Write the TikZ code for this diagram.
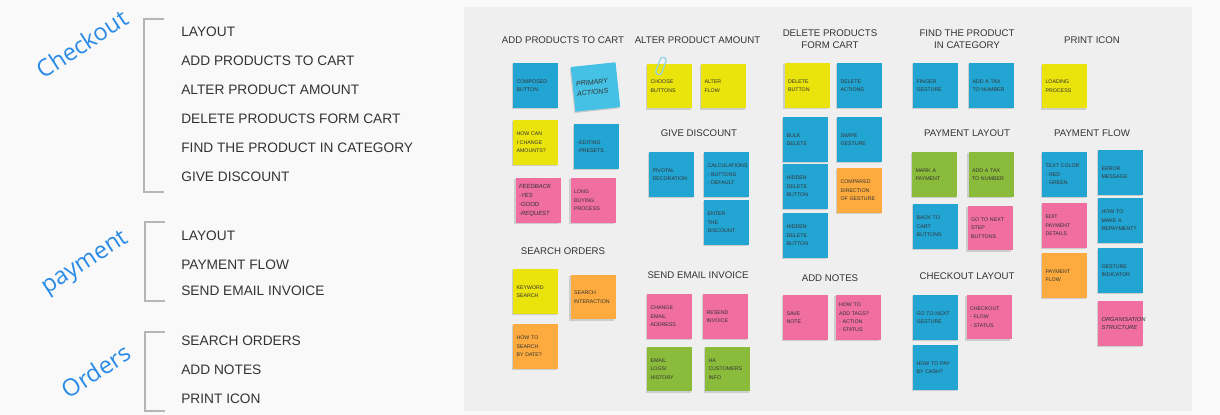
\documentclass[tikz,border=0pt]{standalone}
\usepackage{fontspec}
\setmainfont{Liberation Sans}
\newfontfamily\labelfont{Open Sans}
\usetikzlibrary{shadows}

\definecolor{page}{HTML}{F9F9F9}
\definecolor{board}{HTML}{EFEFEF}
\definecolor{ink}{HTML}{333333}
\definecolor{bracketgray}{HTML}{B5B5B5}
\definecolor{labelblue}{HTML}{2A8BE6}
\definecolor{nblue}{HTML}{23A5D3}
\definecolor{nlblue}{HTML}{45C1E5}
\definecolor{nyellow}{HTML}{EAE30C}
\definecolor{npink}{HTML}{F06EA0}
\definecolor{norange}{HTML}{FDAB3E}
\definecolor{ngreen}{HTML}{8BBB3B}
\definecolor{clipblue}{HTML}{8FD3E8}
\newcommand\notefont{\hyphenpenalty=10000\relax\fontsize{3}{4.8}\selectfont}

\begin{document}
\begin{tikzpicture}[x=0.02cm,y=-0.02cm,
  group/.style={labelblue,font=\labelfont\fontsize{13.5}{15}\selectfont,rotate=33,inner sep=0pt},
  item/.style={anchor=west,ink,font=\fontsize{7.8}{9}\selectfont,inner sep=0pt},
  bracket/.style={bracketgray,line width=0.7pt},
  ttl/.style={ink,font=\fontsize{5.5}{7}\selectfont,align=center,inner sep=0pt},
  note/.style={minimum size=0.9cm,inner sep=0pt,text width=0.76cm,align=left,
    text=ink,font=\notefont,
    drop shadow={shadow xshift=-0.6pt,shadow yshift=-0.8pt,opacity=0.3,fill=black!50}}]
\useasboundingbox (0,0) rectangle (1220,415);
\fill[page] (0,0) rectangle (1220,415);
\fill[board] (464,7) rectangle (1192,411);

% groups and their lists
\node[group] (checkout) at (82,44) {Checkout};
\node[group] (payment) at (86,264) {payment};
\node[group] (orders) at (96,371) {Orders};
\draw[bracket] (164,19) -- (144,19) -- (144,192) -- (164,192);
\draw[bracket] (165,222) -- (145,222) -- (145,301) -- (165,301);
\draw[bracket] (165,332) -- (145,332) -- (145,411) -- (165,411);
\node[item] (c1) at (181,32) {LAYOUT};
\node[item] (c2) at (181,61) {ADD PRODUCTS TO CART};
\node[item] (c3) at (181,90) {ALTER PRODUCT AMOUNT};
\node[item] (c4) at (181,119) {DELETE PRODUCTS FORM CART};
\node[item] (c5) at (181,148) {FIND THE PRODUCT IN CATEGORY};
\node[item] (c6) at (181,177) {GIVE DISCOUNT};
\node[item] (p1) at (181,236) {LAYOUT};
\node[item] (p2) at (181,265) {PAYMENT FLOW};
\node[item] (p3) at (181,291) {SEND EMAIL INVOICE};
\node[item] (o1) at (181,341) {SEARCH ORDERS};
\node[item] (o2) at (181,370) {ADD NOTES};
\node[item] (o3) at (181,399) {PRINT ICON};

% first column
\node[ttl] (tcart) at (563,40) {ADD PRODUCTS TO CART};
\node[note,fill=nblue] (composed) at (535.5,85.5) {COMPOSED\\BUTTON};
\node[note,fill=nlblue,rotate=6,font=\itshape\fontsize{4}{5.6}\selectfont] (primary) at (595.5,87) {PRIMARY\\ACTIONS};
\node[note,fill=nyellow] (amounts) at (535.5,142.5) {HOW CAN\\I CHANGE\\AMOUNTS?};
\node[note,fill=nblue] (editing) at (596.5,146.5) {-EDITING\\-PRESETS};
\node[note,fill=npink,font=\itshape\fontsize{3.4}{5}\selectfont] (feedback) at (538,200.5) {FEEDBACK\\-YES\\-GOOD\\-REQUEST};
\node[note,fill=npink] (buying) at (593,200.5) {LONG\\BUYING\\PROCESS};
\node[ttl] (tsearch) at (563,251) {SEARCH ORDERS};
\node[note,fill=nyellow] (keyword) at (535.5,291.5) {KEYWORD\\SEARCH};
\node[note,fill=norange] (interaction) at (593,297) {SEARCH\\INTERACTION};
\node[note,fill=norange] (bydate) at (535.5,346.5) {HOW TO\\SEARCH\\BY DATE?};

% second column
\node[ttl] (talter) at (697.5,40) {ALTER PRODUCT AMOUNT};
\node[note,fill=nyellow] (choose) at (669.5,86) {CHOOSE\\BUTTONS};
\draw[clipblue,line width=0.7pt,rounded corners=1.5pt,rotate around={-20:(661,66)}] (658,57) rectangle (664,75);
\node[note,fill=nyellow] (alterflow) at (723.5,86) {ALTER\\FLOW};
\node[ttl] (tdiscount) at (699,133) {GIVE DISCOUNT};
\node[note,fill=nblue] (pivotal) at (671.5,174.5) {PIVOTAL\\DECORATION};
\node[note,fill=nblue] (calc) at (726.5,174.5) {CALCULATIONS\\- BUTTONS\\- DEFAULT};
\node[note,fill=nblue] (enter) at (726.5,222.5) {ENTER\\THE\\DISCOUNT};
\node[ttl] (temail) at (698,275) {SEND EMAIL INVOICE};
\node[note,fill=npink] (change) at (669.5,316.5) {CHANGE\\EMAIL\\ADDRESS};
\node[note,fill=npink] (resend) at (725.5,316.5) {RESEND\\INVOICE};
\node[note,fill=ngreen] (logs) at (669.5,369) {EMAIL\\LOGS/\\HISTORY};
\node[note,fill=ngreen] (customers) at (727.5,369) {HA\\CUSTOMERS\\INFO};

% third column
\node[ttl] (tdelete) at (830,39) {DELETE PRODUCTS\\FORM CART};
\node[note,fill=nyellow] (delbutton) at (807,85.5) {DELETE\\BUTTON};
\node[note,fill=nblue] (delactions) at (859.5,85.5) {DELETE\\ACTIONS};
\node[note,fill=nblue] (bulk) at (805.5,139.5) {BULK\\DELETE};
\node[note,fill=nblue] (swipe) at (859.5,139.5) {SWIPE\\GESTURE};
\node[note,fill=nblue] (hiddenA) at (805.5,186.5) {HIDDEN\\DELETE\\BUTTON};
\node[note,fill=norange] (compared) at (859.5,190.5) {COMPARED\\DIRECTION\\OF GESTURE};
\node[note,fill=nblue] (hiddenB) at (805.5,235.5) {HIDDEN\\DELETE\\BUTTON};
\node[ttl] (tnotes) at (830,278) {ADD NOTES};
\node[note,fill=npink] (save) at (805.5,317.5) {SAVE\\NOTE};
\node[note,fill=npink] (tags) at (858,317.5) {HOW TO\\ADD TAGS?\\- ACTION\\- STATUS};

% fourth column
\node[ttl] (tfind) at (967,39) {FIND THE PRODUCT\\IN CATEGORY};
\node[note,fill=nblue] (finger) at (935.5,85.5) {FINGER\\GESTURE};
\node[note,fill=nblue] (taxA) at (991.5,85.5) {ADD A TAX\\TO NUMBER};
\node[ttl] (tplayout) at (967,133) {PAYMENT LAYOUT};
\node[note,fill=ngreen] (mark) at (934.5,174.5) {MARK A\\PAYMENT};
\node[note,fill=ngreen] (taxB) at (991,174.5) {ADD A TAX\\TO NUMBER};
\node[note,fill=nblue] (back) at (935.5,226.5) {BACK TO CART\\BUTTONS};
\node[note,fill=npink] (nextstep) at (990,228) {GO TO NEXT\\STEP\\BUTTONS};
\node[ttl] (tclayout) at (967,276) {CHECKOUT LAYOUT};
\node[note,fill=nblue] (nextgesture) at (935.5,317.5) {GO TO NEXT\\GESTURE};
\node[note,fill=npink] (cflow) at (989,317) {CHECKOUT\\- FLOW\\- STATUS};
\node[note,fill=nblue] (cash) at (935.5,367.5) {HOW TO PAY\\BY CASH?};

% fifth column
\node[ttl] (tprint) at (1092,40) {PRINT ICON};
\node[note,fill=nyellow] (loading) at (1064.5,86) {LOADING\\PROCESS};
\node[ttl] (tpflow) at (1092,133) {PAYMENT FLOW};
\node[note,fill=nblue] (textcolor) at (1064.5,174.5) {TEXT COLOR\\- RED\\- GREEN};
\node[note,fill=nblue] (error) at (1120.5,172.5) {ERROR\\MESSAGE};
\node[note,fill=npink] (edit) at (1064.5,225.5) {EDIT\\PAYMENT\\DETAILS};
\node[note,fill=nblue] (repay) at (1120.5,220.5) {HOW TO\\MAKE A\\REPAYMENT?};
\node[note,fill=norange] (pflow) at (1064.5,275.5) {PAYMENT\\FLOW};
\node[note,fill=nblue] (indicator) at (1120.5,270.5) {GESTURE\\INDICATOR};
\node[note,fill=npink,font=\itshape\fontsize{3.3}{4.8}\selectfont] (organisation) at (1120.5,323.5) {ORGANISATION\\STRUCTURE};
\end{tikzpicture}
\end{document}
